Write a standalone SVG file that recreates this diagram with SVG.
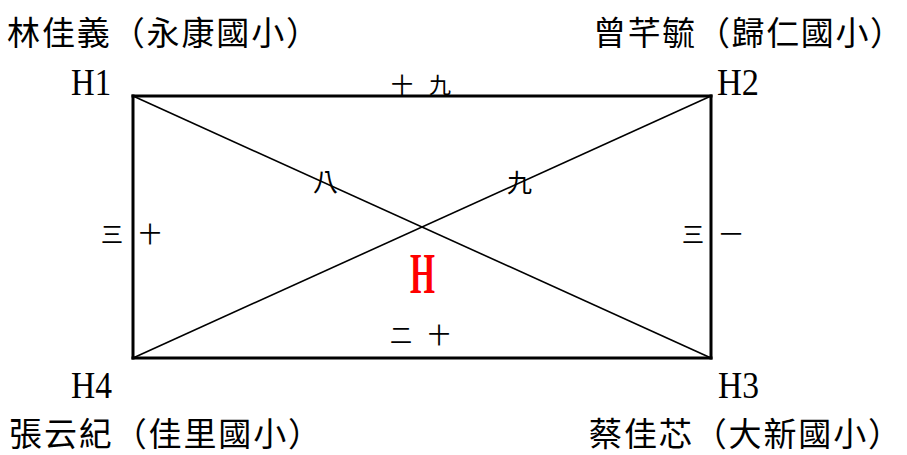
<svg xmlns="http://www.w3.org/2000/svg" width="907" height="455" viewBox="0 0 907 455">
<style>
.name{font-family:"Noto Sans CJK TC","Noto Sans CJK SC",sans-serif;font-size:33px;fill:#000}
.hl{font-family:"Liberation Serif","Times New Roman",serif;font-size:37px;fill:#000}
.el{font-family:"Noto Sans CJK TC","Noto Sans CJK SC",sans-serif;font-size:22px;fill:#000}
.el2{font-family:"Noto Sans CJK TC","Noto Sans CJK SC",sans-serif;font-size:25px;fill:#000}
.edge{stroke:#000;stroke-width:3;stroke-linecap:square;fill:none}
.diag{stroke:#000;stroke-width:1.6;fill:none}
.center{font-family:"Liberation Serif","Times New Roman",serif;font-weight:bold;font-size:56px;fill:#ff0000}
</style>
<rect width="907" height="455" fill="#fff"/>
<g id="connectors">
  <line class="edge" x1="133" y1="96" x2="711" y2="96"/>
  <line class="edge" x1="711" y1="96" x2="711" y2="358"/>
  <line class="edge" x1="711" y1="358" x2="133" y2="358"/>
  <line class="edge" x1="133" y1="358" x2="133" y2="96"/>
  <line class="diag" x1="133" y1="96" x2="711" y2="358"/>
  <line class="diag" x1="133" y1="358" x2="711" y2="96"/>
</g>
<g id="edge-labels">
  <text class="el" x="391" y="93" textLength="60" lengthAdjust="spacing">十九</text>
  <text class="el2" x="313" y="191">八</text>
  <text class="el2" x="507" y="192">九</text>
  <text class="el" x="101" y="242" textLength="60" lengthAdjust="spacing">三十</text>
  <text class="el" x="682" y="242" textLength="60" lengthAdjust="spacing">三一</text>
  <text class="el" x="390" y="343" textLength="60" lengthAdjust="spacing">二十</text>
</g>
<g id="H1">
  <text class="name" x="7" y="45" textLength="312" lengthAdjust="spacing">林佳義（永康國小）</text>
  <text class="hl" x="71" y="95" textLength="40" lengthAdjust="spacingAndGlyphs">H1</text>
</g>
<g id="H2">
  <text class="name" x="593" y="45" textLength="310" lengthAdjust="spacing">曾芊毓（歸仁國小）</text>
  <text class="hl" x="717" y="95" textLength="42" lengthAdjust="spacingAndGlyphs">H2</text>
</g>
<g id="H3">
  <text class="name" x="589" y="446" textLength="312" lengthAdjust="spacing">蔡佳芯（大新國小）</text>
  <text class="hl" x="718" y="398" textLength="41" lengthAdjust="spacingAndGlyphs">H3</text>
</g>
<g id="H4">
  <text class="name" x="9" y="446" textLength="312" lengthAdjust="spacing">張云紀（佳里國小）</text>
  <text class="hl" x="71" y="398" textLength="41" lengthAdjust="spacingAndGlyphs">H4</text>
</g>
<g id="H">
  <text class="center" x="410" y="293" textLength="25" lengthAdjust="spacingAndGlyphs">H</text>
</g>
</svg>
